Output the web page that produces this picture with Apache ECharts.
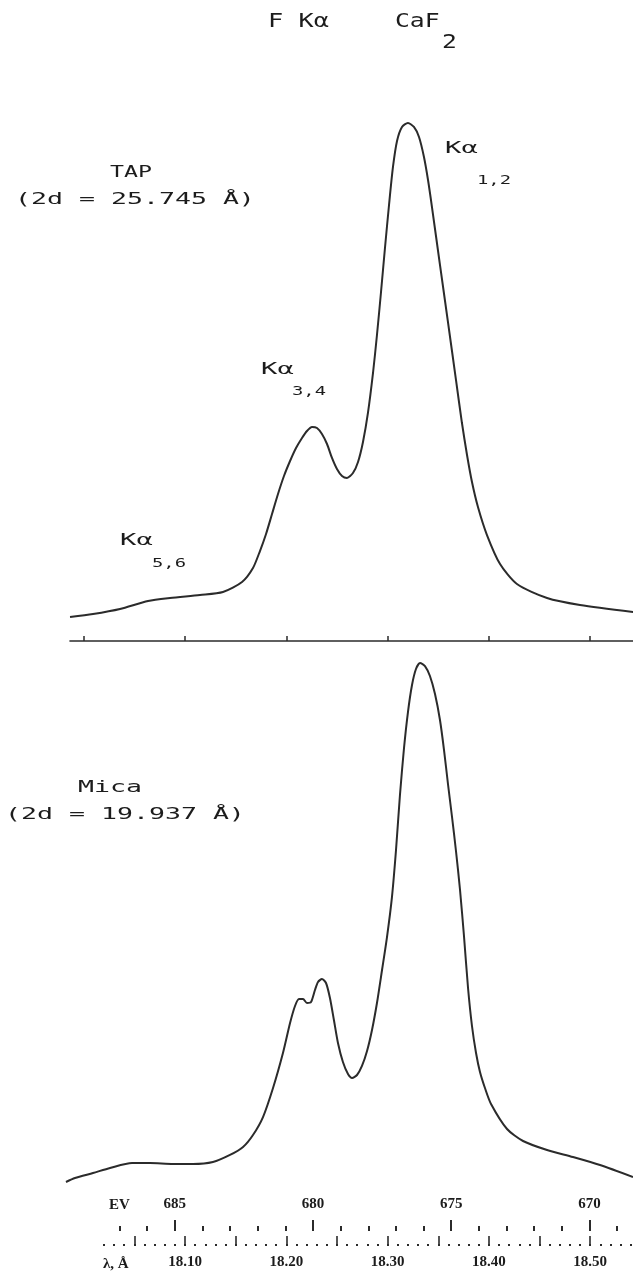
<!DOCTYPE html>
<html>
<head>
<meta charset="utf-8">
<script src="https://cdn.jsdelivr.net/npm/echarts/dist/echarts.min.js"></script>
<style>
html,body{margin:0;padding:0;background:#fff;}
#c{width:633px;height:1273px;}
</style>
</head>
<body>
<div id="c"></div>
<script>
// ---- data (wavelength in Å, relative intensity) ----
const tapLambda = [17.9865,18.0092,18.0358,18.0635,18.0852,18.1148,18.1375,18.1563,18.1671,18.1740,18.1800,18.1859,18.1918,18.1977,18.2037,18.2096,18.2155,18.2204,18.2254,18.2303,18.2352,18.2402,18.2451,18.2500,18.2550,18.2599,18.2658,18.2708,18.2757,18.2806,18.2856,18.2895,18.2935,18.2974,18.3014,18.3053,18.3093,18.3142,18.3201,18.3260,18.3310,18.3359,18.3399,18.3438,18.3517,18.3596,18.3675,18.3734,18.3784,18.3833,18.3892,18.3981,18.4110,18.4277,18.4574,18.4899,18.5423];
const tapIntensity = [4.63,5.21,6.18,7.72,8.30,8.88,9.46,11.39,14.09,17.37,20.66,24.52,28.38,31.85,34.75,37.26,39.19,40.54,41.31,41.12,39.96,38.03,35.33,33.20,31.85,31.47,32.43,34.56,38.42,44.02,51.74,59.07,67.37,75.87,84.17,91.51,96.53,99.23,100.0,99.23,97.30,93.44,89.00,83.78,72.59,61.58,50.39,42.08,35.91,30.69,25.87,20.46,14.86,11.00,8.30,6.95,5.60];
const micaLambda = [17.9825,17.9914,18.0092,18.0260,18.0477,18.0654,18.0882,18.1079,18.1276,18.1444,18.1573,18.1671,18.1770,18.1869,18.1967,18.2037,18.2086,18.2125,18.2165,18.2204,18.2244,18.2283,18.2313,18.2352,18.2392,18.2431,18.2470,18.2510,18.2559,18.2609,18.2649,18.2698,18.2747,18.2797,18.2846,18.2895,18.2945,18.2994,18.3043,18.3083,18.3122,18.3162,18.3201,18.3241,18.3280,18.3320,18.3369,18.3418,18.3468,18.3517,18.3557,18.3596,18.3636,18.3675,18.3715,18.3754,18.3794,18.3833,18.3873,18.3912,18.3961,18.4021,18.4179,18.4337,18.4574,18.4830,18.5097,18.5423];
const micaIntensity = [5.64,6.36,7.27,8.18,9.09,9.09,8.91,8.91,9.27,10.55,12.00,14.18,17.45,22.73,29.09,34.55,37.64,38.91,38.91,38.18,38.36,40.55,42.00,42.55,41.82,39.09,35.09,30.91,27.45,25.27,24.55,25.09,26.73,29.45,33.27,38.18,44.18,50.18,57.45,66.00,76.00,84.55,91.09,96.00,98.91,100.0,99.45,97.64,94.36,89.64,84.18,78.00,72.00,65.82,58.73,50.36,40.91,34.00,29.09,25.64,22.73,19.82,15.27,13.09,11.45,10.18,8.73,6.55];
const evTickLabels = ['670','675','680','685'];
const lambdaTickLabels = ['18.10','18.20','18.30','18.40','18.50'];

// ---- scale layout (pixels) ----
const L0 = 18.10, X0 = 185, PXA = 1013;   // wavelength scale
const E0 = 685, XE = 174.8, PXE = 27.64;  // energy scale
const W = 633;
const xl = l => X0 + (l - L0) * PXA;
const lx = x => L0 + (x - X0) / PXA;
const xe = e => XE + (E0 - e) * PXE;

const INK = '#2b2b2b';
const TXT = '#1c1c1c';
const mono = '"DejaVu Sans Mono", monospace';
const serif = '"Liberation Serif", "DejaVu Serif", serif';

function pairs(a, b){ return a.map((v, i) => [v, b[i]]); }

const grids = [
  {left:70, width:W-70, top:123, height:518},                         // 0 TAP
  {left:xl(18.0), width:xl(18.5)-xl(18.0), top:600, height:41},       // 1 TAP ticks
  {left:0, width:W, top:663, height:550},                             // 2 Mica
  {left:xe(687), width:xe(669)-xe(687), top:1226, height:5},          // 3 eV minor
  {left:xe(685), width:xe(670)-xe(685), top:1226, height:5},          // 4 eV major
  {left:xl(18.02), width:xl(18.54)-xl(18.02), top:1236, height:10},   // 5 λ dots
  {left:xl(18.05), width:xl(18.50)-xl(18.05), top:1236, height:10}    // 6 λ majors
];

const off = {show:false};
const xAxes = [
  {gridIndex:0, type:'value', min:lx(70), max:lx(W), axisLine:{show:true, lineStyle:{color:INK, width:1.6}}, axisTick:off, axisLabel:off, splitLine:off},
  {gridIndex:1, type:'value', min:18.0, max:18.5, interval:0.1, axisLine:off, axisTick:{show:true, inside:true, length:5, lineStyle:{color:INK, width:1.5}}, axisLabel:off, splitLine:off},
  {gridIndex:2, type:'value', min:lx(0), max:lx(W), show:false, splitLine:off},
  {gridIndex:3, type:'value', position:'top', inverse:true, min:669, max:687, interval:1, axisLine:off, axisTick:{show:true, length:5, lineStyle:{color:INK, width:2}}, axisLabel:off, splitLine:off},
  {gridIndex:4, type:'value', position:'top', inverse:true, min:670, max:685, interval:5, axisLine:off, axisTick:{show:true, length:11, lineStyle:{color:INK, width:2}},
    axisLabel:{show:true, margin:14, showMinLabel:true, showMaxLabel:true, hideOverlap:false, color:TXT, fontFamily:serif, fontWeight:'bold', fontSize:15,
      formatter: v => { const s = String(Math.round(v)); return evTickLabels.includes(s) ? s : ''; }}, splitLine:off},
  {gridIndex:5, type:'value', min:18.02, max:18.54, interval:0.01, axisLine:off, axisTick:{show:true, inside:true, length:2, lineStyle:{color:INK, width:2}}, axisLabel:off, splitLine:off},
  {gridIndex:6, type:'value', min:18.05, max:18.50, interval:0.05, axisLine:off, axisTick:{show:true, inside:true, length:10, lineStyle:{color:INK, width:1.6}},
    axisLabel:{show:true, margin:9, showMinLabel:true, showMaxLabel:true, hideOverlap:false, color:TXT, fontFamily:serif, fontWeight:'bold', fontSize:15,
      formatter: v => { const s = v.toFixed(2); return lambdaTickLabels.includes(s) ? s : ''; }}, splitLine:off}
];
const yAxes = grids.map((g, i) => ({gridIndex:i, type:'value', min:0, max:100, show:false, splitLine:off}));

function txt(t, x, y, size, sx, opts){
  opts = opts || {};
  return {type:'text', x:x, y:y, scaleX:sx, scaleY:1, silent:true,
    style:{text:t, fill:TXT, fontSize:size, fontFamily:opts.family || mono, fontWeight:opts.weight || 'normal',
      textAlign:'left', textVerticalAlign:'middle'}};
}

const graphics = [
  txt('F Kα', 268, 22, 19, 1.33),
  txt('CaF', 395, 22, 19, 1.3),
  txt('2', 442, 43, 19, 1.3),
  txt('TAP', 110, 173, 16, 1.45),
  txt('(2d = 25.745 Å)', 15, 200, 16, 1.66),
  txt('Kα', 445, 149, 16, 1.7),
  txt('1,2', 477, 181, 13, 1.45),
  txt('Kα', 261, 370, 16, 1.7),
  txt('3,4', 292, 392, 13, 1.45),
  txt('Kα', 120, 541, 16, 1.7),
  txt('5,6', 152, 564, 13, 1.45),
  txt('Mica', 78, 788, 16, 1.66),
  txt('(2d = 19.937 Å)', 5, 815, 16, 1.66),
  txt('EV', 109, 1205, 15, 1, {family:serif, weight:'bold'}),
  txt('λ, Å', 103, 1264, 15, 1, {family:serif, weight:'bold'})
];

const lineStyle = {color:INK, width:2};
const chart = echarts.init(document.getElementById('c'), null, {renderer:'canvas'});
chart.setOption({
  animation:false,
  backgroundColor:'#ffffff',
  grid: grids,
  xAxis: xAxes,
  yAxis: yAxes,
  series: [
    {type:'line', xAxisIndex:0, yAxisIndex:0, data:pairs(tapLambda, tapIntensity), showSymbol:false, smooth:0.25, lineStyle:lineStyle},
    {type:'line', xAxisIndex:2, yAxisIndex:2, data:pairs(micaLambda, micaIntensity), showSymbol:false, smooth:0.25, lineStyle:lineStyle}
  ],
  graphic: graphics
});
</script>
</body>
</html>
